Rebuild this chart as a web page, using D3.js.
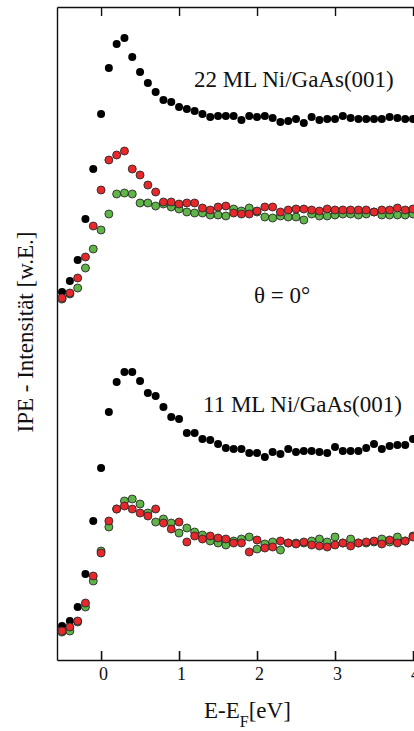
<!DOCTYPE html>
<html>
<head>
<meta charset="utf-8">
<script src="https://cdn.jsdelivr.net/npm/d3@7"></script>
<style>
  body { margin: 0; background: #fff; }
  text { font-family: "Liberation Serif", "Times New Roman", serif; fill: #111; }
  .axis path, .axis line { stroke: #111; }
</style>
</head>
<body>
<svg id="chart" width="414" height="731"></svg>
<script>
// photon energy relative to E_F [eV]
var energy = [-0.5,-0.4,-0.3,-0.2,-0.1,0.0,0.1,0.2,0.3,0.4,0.5,0.6,0.7,0.8,0.9,
  1.0,1.1,1.2,1.3,1.4,1.5,1.6,1.7,1.8,1.9,2.0,2.1,2.2,2.3,2.4,2.5,2.6,2.7,2.8,2.9,
  3.0,3.1,3.2,3.3,3.4,3.5,3.6,3.7,3.8,3.9,4.0];

// intensities in arbitrary units (curves offset as in the figure)
var ml22Black = [368,379,400,441,491,546,592,616,622,603,588,577,568,560,558,
  553,551,549,546,543,544,544,544,540,544,543,544,542,538,539,541,537,543,540,541,
  541,544,542,541,541,541,541,543,542,541,541];
var ml22Green = [361,366,372,392,411,430,446,466,467,466,457,457,454,456,453,
  451,448,447,447,445,445,444,451,449,452,448,443,442,444,443,443,440,446,444,444,
  445,446,446,445,446,448,445,445,445,445,446];
var ml22Red = [362,367,382,403,434,470,500,505,509,491,485,475,468,458,458,
  456,457,457,452,450,453,454,447,446,446,449,453,453,448,450,451,451,450,449,451,
  450,450,450,450,450,448,450,450,452,450,451];

var ml11Black = [34,39,53,86,139,192,248,278,288,288,279,267,264,253,243,
  241,227,227,221,220,216,212,211,211,207,207,203,208,206,211,208,209,209,208,207,
  213,209,209,209,212,216,211,214,215,215,221];
var ml11Green = [28,29,38,53,79,109,133,151,159,161,156,147,138,141,137,
  127,132,128,125,119,117,115,119,121,123,111,116,118,110,117,117,117,119,121,118,
  123,117,121,117,117,118,121,118,123,119,124];
var ml11Red = [29,33,39,57,84,107,139,151,154,151,147,144,151,137,131,
  138,118,124,121,124,122,121,117,117,108,120,112,113,119,117,116,118,115,114,113,
  115,117,114,117,118,119,116,120,117,119,123];

var xTicks = [0, 1, 2, 3, 4];

var svg = d3.select("#chart"),
  margin = {top: 7, left: 57},
  plotRight = 452,
  plotBottom = 660;

var x = d3.scaleLinear().domain([-0.565, 4.5]).range([margin.left, plotRight]);
var y = d3.scaleLinear().domain([0, 653]).range([plotBottom, margin.top]);

// axes: bottom with labels, top with ticks only, left as a plain line
svg.append("g")
  .attr("class", "axis")
  .attr("transform", "translate(0," + plotBottom + ")")
  .call(d3.axisBottom(x).tickValues(xTicks).tickSize(-9).tickSizeOuter(0).tickPadding(7).tickFormat(d3.format("d")))
  .call(g => g.selectAll("path, line").attr("stroke-width", 1.6))
  .call(g => g.selectAll("text").attr("font-size", 18).attr("dx", 2)
    .style("font-family", "'Liberation Serif', serif").attr("fill", "#111"));

svg.append("g")
  .attr("class", "axis")
  .attr("transform", "translate(0," + margin.top + ")")
  .call(d3.axisTop(x).tickValues(xTicks).tickSize(-9).tickSizeOuter(0).tickFormat(""))
  .call(g => g.selectAll("path, line").attr("stroke-width", 1.4));

svg.append("g")
  .attr("class", "axis")
  .attr("transform", "translate(" + margin.left + ",0)")
  .call(d3.axisLeft(y).tickValues([]).tickSizeOuter(0))
  .call(g => g.select("path").attr("stroke-width", 1.4));

// draw order: black, green, red (red sits on top)
var series = [
  {values: ml22Black, fill: "#000", stroke: "none", r: 4.0},
  {values: ml11Black, fill: "#000", stroke: "none", r: 4.0},
  {values: ml22Green, fill: "#5fb548", stroke: "#2a2a2a", r: 4.0},
  {values: ml11Green, fill: "#5fb548", stroke: "#2a2a2a", r: 4.0},
  {values: ml22Red, fill: "#e8282b", stroke: "#2a2a2a", r: 4.0},
  {values: ml11Red, fill: "#e8282b", stroke: "#2a2a2a", r: 4.0}
];

series.forEach(function(s) {
  svg.append("g").selectAll("circle")
    .data(s.values)
    .enter().append("circle")
    .attr("cx", (d, i) => x(energy[i]))
    .attr("cy", d => y(d))
    .attr("r", s.r)
    .attr("fill", s.fill)
    .attr("stroke", s.stroke)
    .attr("stroke-width", 0.9);
});

// annotations
svg.append("text").attr("x", 194).attr("y", 87).attr("font-size", 23)
  .text("22 ML Ni/GaAs(001)");
svg.append("text").attr("x", 203).attr("y", 412).attr("font-size", 23)
  .text("11 ML Ni/GaAs(001)");
svg.append("text").attr("x", 254).attr("y", 303).attr("font-size", 23)
  .text("θ = 0°");

// axis titles
var xt = svg.append("text").attr("x", 204).attr("y", 718).attr("font-size", 23);
xt.append("tspan").text("E-E");
xt.append("tspan").attr("font-size", 16).attr("dy", 9).text("F");
xt.append("tspan").attr("dy", -9).text("[eV]");

svg.append("text")
  .attr("transform", "translate(33,332) rotate(-90)")
  .attr("text-anchor", "middle")
  .attr("font-size", 23)
  .text("IPE - Intensität [w.E.]");
</script>
</body>
</html>
